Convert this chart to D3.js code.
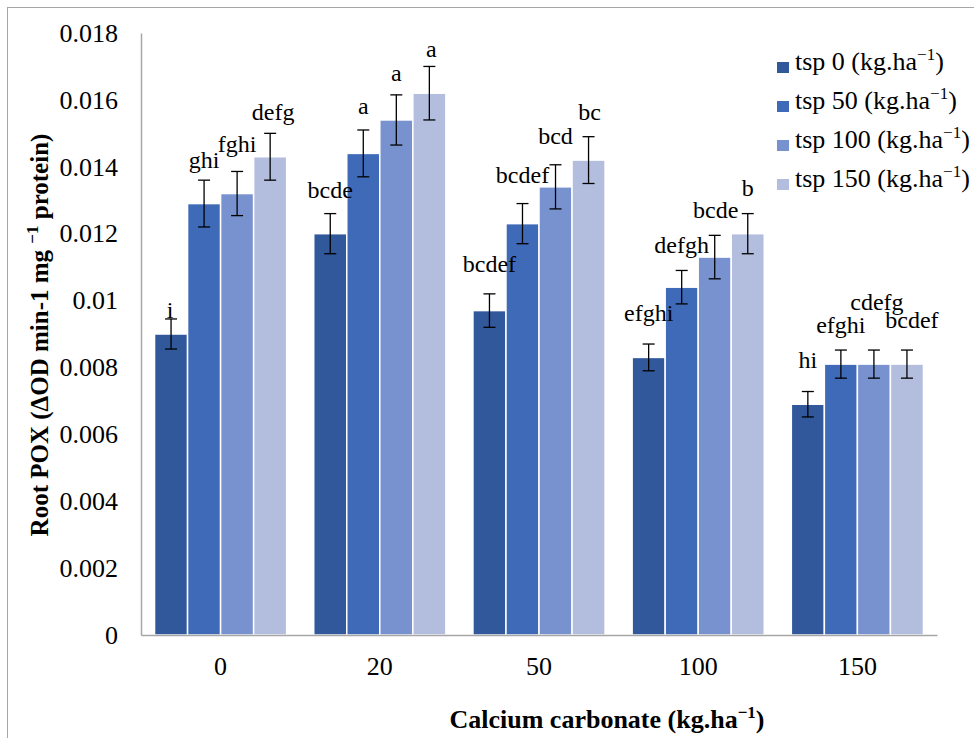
<!DOCTYPE html>
<html>
<head>
<meta charset="utf-8">
<script src="https://cdn.jsdelivr.net/npm/d3@7"></script>
<style>
  body { margin: 0; background: #fff; }
  svg text { font-family: "Liberation Serif", "DejaVu Serif", serif; fill: #000; }
</style>
</head>
<body>
<div id="chart"></div>
<script>
// calcium carbonate levels on x, tsp levels as grouped bars
var categories = ["0", "20", "50", "100", "150"];
var seriesNames = ["tsp 0", "tsp 50", "tsp 100", "tsp 150"];
var tsp0   = [0.0090, 0.0120, 0.0097, 0.0083, 0.0069];
var tsp50  = [0.0129, 0.0144, 0.0123, 0.0104, 0.0081];
var tsp100 = [0.0132, 0.0154, 0.0134, 0.0113, 0.0081];
var tsp150 = [0.0143, 0.0162, 0.0142, 0.0120, 0.0081];
var err0   = [0.00045, 0.0006, 0.0005, 0.0004, 0.00038];
var err50  = [0.0007, 0.0007, 0.0006, 0.0005, 0.00042];
var err100 = [0.00066, 0.00075, 0.00066, 0.00065, 0.00042];
var err150 = [0.0007, 0.0008, 0.0007, 0.0006, 0.00042];
var letters0   = ["i", "bcde", "bcdef", "efghi", "hi"];
var letters50  = ["ghi", "a", "bcdef", "defgh", "efghi"];
var letters100 = ["fghi", "a", "bcd", "bcde", "cdefg"];
var letters150 = ["defg", "a", "bc", "b", "bcdef"];
var yTicks = [0, 0.002, 0.004, 0.006, 0.008, 0.01, 0.012, 0.014, 0.016, 0.018];

var colors = ["#30589a", "#3f6ab7", "#7891cf", "#b3bedf"];

// label nudges [dx, dy] from the error bar top, by series then category
var labelNudge = [
  [[-1, -1], [0, -16], [0, -22], [0, -23], [0, -24]],
  [[0, -12], [0, -16], [0, -21], [0, -17], [0, -17]],
  [[0, -19], [0, -14], [0, -21], [1, -17], [3, -40]],
  [[3, -13], [2, -9], [1, -17], [0, -18], [5, -22]]
];

var values = [tsp0, tsp50, tsp100, tsp150];
var errs = [err0, err50, err100, err150];
var letters = [letters0, letters50, letters100, letters150];

var width = 974, height = 738;
var margin = {left: 141, right: 37, top: 33, bottom: 103};
var serif = "'Liberation Serif', 'DejaVu Serif', serif";

var svg = d3.select("#chart").append("svg")
    .attr("width", width)
    .attr("height", height)
    .style("font-family", serif);

// outer frame
svg.append("rect")
    .attr("x", 7.5).attr("y", 7.5)
    .attr("width", 1000).attr("height", 800)
    .attr("fill", "none")
    .attr("stroke", "#a6a6a6");

var x0 = d3.scaleBand()
    .domain(categories)
    .range([margin.left, width - margin.right])
    .paddingInner(0.17)
    .paddingOuter(0.085);

var x1 = d3.scaleBand()
    .domain(d3.range(seriesNames.length))
    .range([0, x0.bandwidth()]);

var y = d3.scaleLinear()
    .domain([0, 0.018])
    .range([height - margin.bottom, margin.top]);

// bars
var rows = [];
values.forEach(function(vals, s) {
  vals.forEach(function(v, c) {
    rows.push({s: s, c: c, v: v, e: errs[s][c], t: letters[s][c]});
  });
});

svg.append("g").selectAll("rect")
  .data(rows)
  .enter().append("rect")
    .attr("x", function(d) { return x0(categories[d.c]) + x1(d.s); })
    .attr("y", function(d) { return y(d.v); })
    .attr("width", x1.bandwidth())
    .attr("height", function(d) { return y(0) - y(d.v); })
    .attr("fill", function(d) { return colors[d.s]; })
    .attr("stroke", "#fff")
    .attr("stroke-width", 1.5);

// axes
var yAxis = d3.axisLeft(y).tickValues(yTicks).tickSize(0).tickPadding(23)
    .tickFormat(function(d) { return d === 0 ? "0" : String(+d.toFixed(3)); });
var gy = svg.append("g")
    .attr("transform", "translate(" + margin.left + ",0)")
    .call(yAxis)
    .attr("font-family", null).attr("font-size", null);
gy.select(".domain").attr("stroke", "#a6a6a6").attr("stroke-width", 1.5);
gy.selectAll(".tick text")
    .style("font-size", "26px");

var xAxis = d3.axisBottom(x0).tickSize(0).tickPadding(22);
var gx = svg.append("g")
    .attr("transform", "translate(0," + y(0) + ")")
    .call(xAxis)
    .attr("font-family", null).attr("font-size", null);
gx.select(".domain").attr("stroke", "#a6a6a6").attr("stroke-width", 1.5);
gx.selectAll(".tick text")
    .style("font-size", "26px");

// error bars
var cx = function(d) { return x0(categories[d.c]) + x1(d.s) + x1.bandwidth() / 2; };
var eb = svg.append("g").selectAll("g")
  .data(rows)
  .enter().append("g")
    .attr("stroke", "#000")
    .attr("stroke-width", 1.3);
eb.append("line")
    .attr("x1", cx).attr("x2", cx)
    .attr("y1", function(d) { return y(d.v + d.e); })
    .attr("y2", function(d) { return y(d.v - d.e); });
eb.append("line")
    .attr("x1", function(d) { return cx(d) - 6; })
    .attr("x2", function(d) { return cx(d) + 6; })
    .attr("y1", function(d) { return y(d.v + d.e); })
    .attr("y2", function(d) { return y(d.v + d.e); });
eb.append("line")
    .attr("x1", function(d) { return cx(d) - 6; })
    .attr("x2", function(d) { return cx(d) + 6; })
    .attr("y1", function(d) { return y(d.v - d.e); })
    .attr("y2", function(d) { return y(d.v - d.e); });

// significance letters
svg.append("g").selectAll("text")
  .data(rows)
  .enter().append("text")
    .attr("x", function(d) { return cx(d) + labelNudge[d.s][d.c][0]; })
    .attr("y", function(d) { return y(d.v + d.e) + labelNudge[d.s][d.c][1]; })
    .attr("text-anchor", "middle")
    .style("font-size", "24px")
    .text(function(d) { return d.t; });

// legend
var legend = svg.append("g").selectAll("g")
  .data(seriesNames)
  .enter().append("g")
    .attr("transform", function(d, i) { return "translate(777," + (62 + i * 39) + ")"; });
legend.append("rect")
    .attr("x", 0).attr("y", 0)
    .attr("width", 12).attr("height", 11)
    .attr("fill", function(d, i) { return colors[i]; });
var lt = legend.append("text")
    .attr("x", 18).attr("y", 8)
    .style("font-size", "26px");
lt.append("tspan").text(function(d) { return d + " (kg.ha"; });
lt.append("tspan").attr("dy", -10).style("font-size", "17px").text("\u22121");
lt.append("tspan").attr("dy", 10).text(")");

// axis titles
var ytitle = svg.append("text")
    .attr("transform", "translate(48,335) rotate(-90)")
    .attr("text-anchor", "middle")
    .style("font-size", "25px")
    .style("font-weight", "bold");
ytitle.append("tspan").text("Root POX (\u0394OD min-1 mg ");
ytitle.append("tspan").attr("dy", -10).style("font-size", "17px").text("\u22121");
ytitle.append("tspan").attr("dy", 10).text(" protein)");

var xtitle = svg.append("text")
    .attr("x", 607).attr("y", 728)
    .attr("text-anchor", "middle")
    .style("font-size", "26px")
    .style("font-weight", "bold");
xtitle.append("tspan").text("Calcium carbonate (kg.ha");
xtitle.append("tspan").attr("dy", -10).style("font-size", "17px").text("\u22121");
xtitle.append("tspan").attr("dy", 10).text(")");
</script>
</body>
</html>
